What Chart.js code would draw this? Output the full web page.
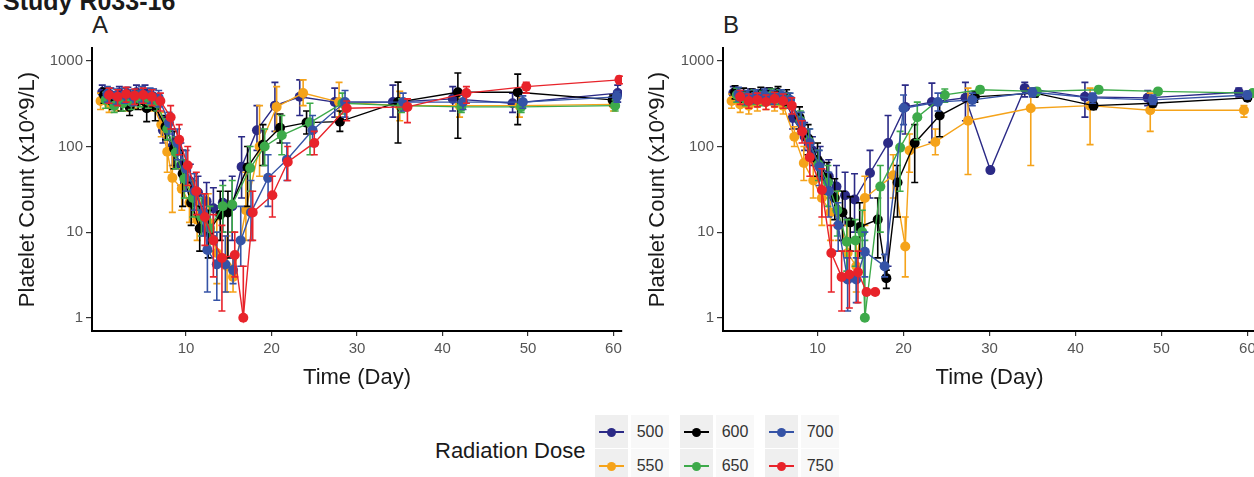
<!DOCTYPE html>
<html>
<head>
<meta charset="utf-8">
<script src="https://cdn.jsdelivr.net/npm/chart.js@4.4.1/dist/chart.umd.min.js"></script>
<style>
  body { margin: 0; width: 1254px; height: 477px; overflow: hidden; background: #fff; position: relative;
         font-family: "Liberation Sans", Arial, sans-serif; }
  canvas { position: absolute; top: 0; }
  #studyTitle { position: absolute; left: 3px; top: -11px; font-weight: bold; font-size: 25px; line-height: 25px; color: #1a1a1a; white-space: nowrap; }
  .panelTag { position: absolute; top: 13px; font-size: 24px; line-height: 24px; color: #222; }
  #legendTitle { position: absolute; left: 435px; top: 438px; font-size: 22px; line-height: 26px; color: #1a1a1a; }
  .key { position: absolute; width: 33px; height: 33px; background: #efefef; }
  .key .ln { position: absolute; left: 4px; top: 16px; width: 25px; height: 2px; }
  .key .dot { position: absolute; left: 12px; top: 12.5px; width: 9px; height: 9px; border-radius: 50%; }
  .lab { position: absolute; width: 38px; height: 33px; line-height: 33px; font-size: 16px; color: #333; background: #f8f8f8; text-align: center; }
</style>
</head>
<body>
<div id="studyTitle">Study R033-16</div>
<div class="panelTag" style="left:92px">A</div>
<div class="panelTag" style="left:723px">B</div>
<canvas id="chartA" width="630" height="400" style="left:0"></canvas>
<canvas id="chartB" width="640" height="400" style="left:630px"></canvas>
<div id="legendTitle">Radiation Dose</div>
<div id="legend"></div>
<script>
const doses = ['500', '550', '600', '650', '700', '750'];
const doseColors = ['#2b2a86', '#f5a31a', '#000000', '#3daa4a', '#3553a6', '#e8232a'];
const xTickValues = [10, 20, 30, 40, 50, 60];
const yTickValues = [1, 10, 100, 1000];

// ---- panel A ----
const a500Day  = [0.2,1.2,2.2,3.2,4.2,5.2,6.2,7.3,8.4,9.4,10.5,11.4,12.4,13.2,14.3,15.4,16.5,18.3,20.4,23.3,27.4,34.2,41.2,48.2,60.5];
const a500Mean = [430,400,420,410,430,420,380,155,100,60,39,29,23,19,22,20,58,155,300,380,330,330,360,320,420];
const a500Lo   = [350,320,340,330,350,330,290,110,60,35,25,18,13,9,10,8,25,90,150,230,220,220,260,250,330];
const a500Hi   = [520,480,500,490,520,520,470,220,160,110,62,45,38,33,40,45,130,300,560,600,480,520,500,420,520];

const a550Day  = [0,1,2,3,4,5,6,7.1,7.8,8.4,9.5,10.4,11.3,12.6,13.6,14.8,15.5,17.0,18.6,20.6,23.7,27.9,35.0,42.0,49.0,60.0];
const a550Mean = [340,310,330,320,350,340,330,180,87,43,32,22,14,13,5.7,4,3.0,18,100,290,420,330,300,300,300,310];
const a550Lo   = [270,250,260,260,280,270,260,130,50,17,18,13,8,6,2.5,2,2,8,45,150,300,220,200,220,220,260];
const a550Hi   = [420,390,410,400,430,420,410,250,150,90,55,36,24,28,14,9,5,50,300,500,600,560,440,400,390,360];

const a600Day  = [0.4,1.4,2.4,3.4,4.4,5.4,6.4,7.6,8.6,9.6,10.6,11.6,12.6,14.0,14.9,17.2,19.0,21.0,24.1,28.0,34.8,41.8,48.8,59.9];
const a600Mean = [400,330,330,290,340,280,290,170,95,48,22,11,10,16,17,57,105,165,190,195,330,430,430,350];
const a600Lo   = [320,270,260,230,270,195,200,120,55,20,12,6,5,8,5,20,60,110,140,150,110,125,180,300];
const a600Hi   = [480,400,400,360,410,360,370,230,150,90,38,20,18,30,30,100,180,240,260,260,565,720,700,400];

const a650Day  = [0.6,1.6,2.6,3.6,4.6,5.6,6.6,7.8,8.8,9.8,10.8,11.8,12.8,14.3,15.4,17.5,19.2,21.2,24.5,28.3,35.2,42.2,49.2,60.2];
const a650Mean = [350,300,320,330,360,340,320,160,85,42,25,15,11,20,21,56,100,135,190,320,300,290,290,300];
const a650Lo   = [280,250,260,270,290,280,260,120,55,25,15,9,6,10,10,30,60,80,80,240,250,250,250,260];
const a650Hi   = [430,370,400,400,440,420,390,210,130,70,40,25,20,35,40,100,160,230,320,420,360,340,340,350];

const a700Day  = [0.8,1.8,2.8,3.8,4.8,5.8,6.8,8.0,9.0,10.0,11.0,12.0,12.5,13.6,14.6,15.5,16.4,17.6,19.6,21.8,24.8,28.6,35.4,42.4,49.4,60.4];
const a700Mean = [410,390,400,380,410,400,370,190,110,55,30,17,6.2,4.2,4.2,3.6,8,17,43,70,155,330,330,330,330,380];
const a700Lo   = [330,310,320,300,330,320,290,140,70,30,18,9,2,1.6,2,2.5,4,8,20,40,100,220,260,270,280,330];
const a700Hi   = [500,470,480,460,500,480,450,250,160,90,48,28,15,10,9,5,20,40,80,110,230,450,420,400,390,440];

const a750Day  = [1.0,2.0,3.0,4.0,5.0,6.0,7.0,8.2,9.2,10.2,11.2,12.2,13.2,14.2,15.7,16.7,17.8,20.1,21.9,25.0,28.8,35.9,42.8,49.8,60.7];
const a750Mean = [400,380,410,390,400,380,340,220,120,60,30,15,8,5,5.4,1.0,17,27,66,110,280,290,420,500,600];
const a750Lo   = [320,300,330,310,320,300,260,160,80,35,16,7,3,1.2,3,1.0,8,15,40,80,200,190,320,420,540];
const a750Hi   = [480,460,490,470,480,460,420,300,180,100,50,28,16,12,10,4,30,45,100,150,340,360,500,560,660];

// ---- panel B ----
const b500Day  = [0.2,1.2,2.2,3.2,4.2,5.2,6.2,7.1,8.5,9.4,10.3,11.3,12.2,13.2,14.3,16.1,18.2,20.2,23.3,27.2,30.1,34.1,41.1,48.4,59.0];
const b500Mean = [420,380,400,390,410,390,360,215,130,90,64,45,34,27,24,49,110,290,330,370,53,480,380,370,430];
const b500Lo   = [350,310,330,320,340,320,290,160,90,60,40,25,17,12,10,25,4,140,112,200,53,380,220,300,380];
const b500Hi   = [500,450,470,460,480,470,430,280,190,130,100,70,60,50,48,90,230,520,550,560,53,560,560,450,480];

const b550Day  = [0,1,2,3,4,5,6,7.3,8.4,9.5,10.5,11.5,12.4,13.5,14.5,15.5,18.8,20.2,20.7,23.7,27.5,34.8,41.7,48.7,59.6];
const b550Mean = [340,310,300,320,330,320,300,130,64,40,25,17,17,5.7,4,25,46,6.8,90,113,200,280,300,265,265];
const b550Lo   = [280,250,240,260,270,260,240,100,40,25,12,8,8,3,2,12,25,3,50,80,47,60,105,150,220];
const b550Hi   = [410,380,370,390,400,390,370,170,100,65,45,30,30,12,8,45,80,15,140,160,480,480,480,420,300];

const b600Day  = [0.4,1.4,2.4,3.4,4.4,5.4,6.4,7.9,8.9,10.0,11.1,12.0,12.9,13.8,14.9,17.0,18.0,19.3,21.3,24.2,28.3,35.3,42.1,49.0,60.0];
const b600Mean = [430,400,390,410,400,420,380,220,125,70,43,25,17,13,11.5,14,2.9,38,110,230,380,420,300,320,370];
const b600Lo   = [360,330,320,340,330,340,300,160,80,45,28,14,8,6,5,5,2.2,15,38,130,330,380,270,290,340];
const b600Hi   = [510,480,470,490,480,500,460,290,180,110,65,42,30,26,22,25,3.6,60,180,330,440,470,340,350,400];

const b650Day  = [0.6,1.6,2.6,3.6,4.6,5.6,6.6,8.0,9.0,10.1,11.2,12.3,13.4,14.4,15.2,15.5,17.3,19.6,21.6,24.8,28.9,35.5,42.7,49.6,60.6];
const b650Mean = [400,360,380,370,390,380,350,200,115,62,38,18,7.7,8,10,1.0,34,97,220,400,460,440,460,440,420];
const b650Lo   = [330,300,310,300,320,310,290,150,75,40,20,9,3.5,4,5,1.0,10,30,120,330,420,400,420,410,390];
const b650Hi   = [480,430,460,440,470,460,420,260,160,90,60,30,14,14,18,8,60,150,330,470,500,480,500,470,450];

const b700Day  = [0.8,1.8,2.8,3.8,4.8,5.8,6.8,8.1,9.1,10.2,11.3,12.4,13.5,14.5,15.5,17.8,20.0,24.0,28.0,35.0,42.0,49.0,60.0];
const b700Mean = [410,380,390,400,380,390,350,190,110,58,30,12,2.8,2.8,5.9,4,280,330,350,430,370,350,400];
const b700Lo   = [340,310,320,330,310,320,280,140,70,35,15,6,1.2,1.5,3,3,180,260,300,380,320,310,360];
const b700Hi   = [490,450,460,470,450,460,420,250,160,90,50,22,5,5,10,5.5,400,420,420,480,420,400,440];

const b750Day  = [1.0,2.0,3.0,4.0,5.0,6.0,7.0,8.2,9.1,10.5,11.6,12.8,13.7,14.7,15.7,16.7];
const b750Mean = [380,340,350,330,360,340,300,150,75,31,5.7,3.0,3.2,3.4,2.0,2.0];
const b750Lo   = [310,280,290,270,290,280,240,110,45,15,2,1.2,1.3,1.5,2.0,2.0];
const b750Hi   = [450,410,420,400,430,410,370,200,110,55,12,6,6,6,2.0,2.0];

const panelA = [
  [a500Day, a500Mean, a500Lo, a500Hi],
  [a550Day, a550Mean, a550Lo, a550Hi],
  [a600Day, a600Mean, a600Lo, a600Hi],
  [a650Day, a650Mean, a650Lo, a650Hi],
  [a700Day, a700Mean, a700Lo, a700Hi],
  [a750Day, a750Mean, a750Lo, a750Hi]
];
const panelB = [
  [b500Day, b500Mean, b500Lo, b500Hi],
  [b550Day, b550Mean, b550Lo, b550Hi],
  [b600Day, b600Mean, b600Lo, b600Hi],
  [b650Day, b650Mean, b650Lo, b650Hi],
  [b700Day, b700Mean, b700Lo, b700Hi],
  [b750Day, b750Mean, b750Lo, b750Hi]
];

Chart.defaults.font.family = '"Liberation Sans", Arial, sans-serif';

// error bars drawn just under each series, using the chart's scales
const errorBars = {
  id: 'errorBars',
  beforeDatasetDraw(chart, args) {
    const ds = chart.data.datasets[args.index];
    const xs = chart.scales.x, ys = chart.scales.y;
    const ctx = chart.ctx;
    ctx.save();
    ctx.strokeStyle = ds.borderColor;
    ctx.lineWidth = 1.6;
    ds.data.forEach(p => {
      const x = xs.getPixelForValue(p.x);
      const y1 = ys.getPixelForValue(p.lo);
      const y2 = ys.getPixelForValue(p.hi);
      ctx.beginPath();
      ctx.moveTo(x, y1); ctx.lineTo(x, y2);
      ctx.moveTo(x - 3.5, y1); ctx.lineTo(x + 3.5, y1);
      ctx.moveTo(x - 3.5, y2); ctx.lineTo(x + 3.5, y2);
      ctx.stroke();
    });
    ctx.restore();
  }
};

function makePanel(id, series, yWidth, padRight) {
  const datasets = series.map((s, i) => ({
    label: doses[i],
    data: s[0].map((d, j) => ({ x: d, y: s[1][j], lo: s[2][j], hi: s[3][j] })),
    borderColor: doseColors[i],
    backgroundColor: doseColors[i],
    borderWidth: 1.4,
    pointRadius: 5,
    pointBorderWidth: 0,
    pointBackgroundColor: doseColors[i],
    tension: 0,
    order: 5 - i
  }));
  return new Chart(document.getElementById(id), {
    type: 'line',
    data: { datasets },
    plugins: [errorBars],
    options: {
      responsive: false,
      animation: false,
      layout: { padding: { top: 48, right: padRight, left: 0, bottom: 0 } },
      plugins: { legend: { display: false }, tooltip: { enabled: false } },
      scales: {
        x: {
          type: 'linear', min: -1, max: 61,
          afterBuildTicks: s => { s.ticks = xTickValues.map(v => ({ value: v })); },
          afterFit: s => { s.height = 69; },
          grid: { drawOnChartArea: false, drawTicks: true, tickLength: 5, color: '#333', lineWidth: 1.2 },
          border: { display: true, color: '#000', width: 2 },
          ticks: { color: '#555', font: { size: 15 }, padding: 4, maxRotation: 0, autoSkip: false },
          title: { display: true, text: 'Time (Day)', color: '#1a1a1a', font: { size: 22 }, padding: { top: 0, bottom: 9 } }
        },
        y: {
          type: 'logarithmic', min: 0.705, max: 1413,
          afterBuildTicks: s => { s.ticks = yTickValues.map(v => ({ value: v })); },
          afterFit: s => { s.width = yWidth; },
          grid: { drawOnChartArea: false, drawTicks: true, tickLength: 6, color: '#333', lineWidth: 1.2 },
          border: { display: true, color: '#000', width: 2 },
          ticks: { color: '#555', font: { size: 15 }, padding: 3, callback: v => String(v) },
          title: { display: true, text: 'Platelet Count (x10^9/L)', color: '#1a1a1a', font: { size: 22 }, padding: { top: 15, bottom: 0 } }
        }
      }
    }
  });
}

makePanel('chartA', panelA, 92, 8);
makePanel('chartB', panelB, 93, 14);

// legend: 3 columns x 2 rows, filled column first
const legend = document.getElementById('legend');
doses.forEach((d, i) => {
  const left = 595 + Math.floor(i / 2) * 85;
  const top = 415 + (i % 2) * 34;
  legend.insertAdjacentHTML('beforeend',
    '<div class="key" style="left:' + left + 'px;top:' + top + 'px">' +
    '<div class="ln" style="background:' + doseColors[i] + '"></div>' +
    '<div class="dot" style="background:' + doseColors[i] + '"></div></div>' +
    '<div class="lab" style="left:' + (left + 36) + 'px;top:' + top + 'px">' + d + '</div>');
});
</script>
</body>
</html>
